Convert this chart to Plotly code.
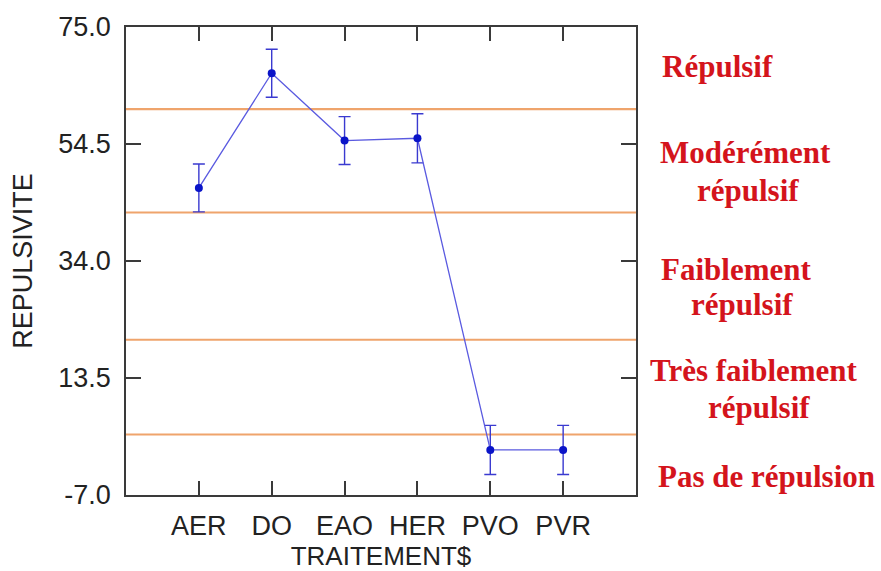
import plotly.graph_objects as go

treatments = ["AER", "DO", "EAO", "HER", "PVO", "PVR"]
repulsivite = [46.8, 66.9, 55.1, 55.5, 0.9, 0.9]
error = [4.2, 4.2, 4.2, 4.3, 4.3, 4.3]
thresholds = [60.6, 42.5, 20.2, 3.6]
ytick_vals = [-7.0, 13.5, 34.0, 54.5, 75.0]
class_lines = [
    ("Répulsif", 717, 63),
    ("Modérément", 745, 150),
    ("répulsif", 748, 188),
    ("Faiblement", 736, 268),
    ("répulsif", 742, 303),
    ("Très faiblement", 754, 370),
    ("répulsif", 759, 408),
    ("Pas de répulsion", 766, 477),
]

W, H = 881, 571
L, R, T, B = 126, 245, 23, 75
pw, ph = W - L - R, H - T - B

xs = list(range(1, len(treatments) + 1))

fig = go.Figure()

for t in thresholds:
    fig.add_shape(type="line", xref="paper", x0=0, x1=1, yref="y", y0=t, y1=t,
                  line=dict(color="#efa46c", width=2.2), layer="below")

fig.add_trace(go.Scatter(
    x=xs, y=repulsivite, mode="lines+markers",
    line=dict(color="#5a5ae0", width=1.3),
    marker=dict(color="#0a14c8", size=8),
    error_y=dict(type="data", array=error, visible=True, color="#3a3ad0",
                 thickness=1.4, width=6),
    showlegend=False,
))

for txt, px, py in class_lines:
    fig.add_annotation(
        text=txt, xref="paper", yref="paper",
        x=(px - L) / pw, y=1 - (py - T) / ph,
        xanchor="center", yanchor="middle", showarrow=False,
        font=dict(family="Liberation Serif", size=31, color="#d4141c", weight="bold"),
    )

axis_common = dict(
    showline=True, linecolor="#3a3a3a", linewidth=1.5, mirror="ticks",
    ticks="inside", tickcolor="#3a3a3a", tickwidth=1.5, showgrid=False, zeroline=False,
    tickfont=dict(family="Liberation Sans", size=27, color="#222"),
)

fig.update_layout(
    width=W, height=H,
    margin=dict(l=L, r=R, t=T, b=B),
    paper_bgcolor="white", plot_bgcolor="white",
    xaxis=dict(range=[0, len(treatments) + 1], tickvals=xs, ticktext=treatments,
               ticklen=14, ticklabelstandoff=6,
               title=dict(text="TRAITEMENT$", standoff=0,
                          font=dict(family="Liberation Sans", size=26, color="#222")),
               **axis_common),
    yaxis=dict(range=[-7, 75], tickvals=ytick_vals,
               ticktext=[f"{v:.1f}" for v in ytick_vals],
               ticklen=15, ticklabelstandoff=8,
               title=dict(text="REPULSIVITE", standoff=18,
                          font=dict(family="Liberation Sans", size=27, color="#222")),
               **axis_common),
)

fig.write_html("out.html")
